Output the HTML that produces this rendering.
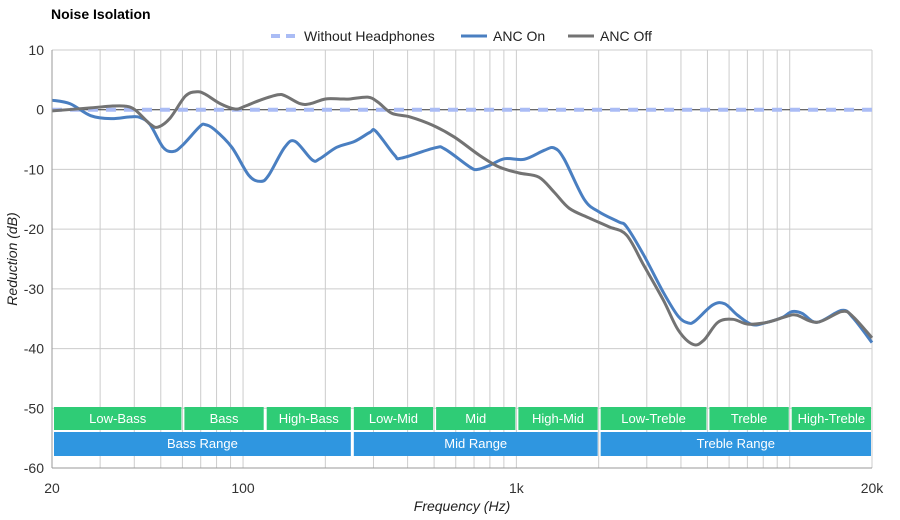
<!DOCTYPE html>
<html><head><meta charset="utf-8"><style>
body{margin:0;background:#fff;}
svg{display:block;font-family:"Liberation Sans",sans-serif;}
</style></head><body>
<svg id="chart" width="900" height="520">
<text x="51" y="19" font-size="14" font-weight="bold" fill="#000">Noise Isolation</text>
<g id="grid"></g>
<g id="bands"></g>
<g id="series"></g>
<g id="axes"></g>
<g font-size="14" fill="#222">
 <g><line x1="271" y1="36" x2="297" y2="36" stroke="#aabcf5" stroke-width="4" stroke-dasharray="9,6"/><text x="304" y="41">Without Headphones</text></g>
 <g><line x1="461" y1="36" x2="487" y2="36" stroke="#4a7fc1" stroke-width="3"/><text x="493" y="41">ANC On</text></g>
 <g><line x1="568" y1="36" x2="594" y2="36" stroke="#737373" stroke-width="3"/><text x="600" y="41">ANC Off</text></g>
</g>
<text x="462" y="511" font-size="14" font-style="italic" text-anchor="middle" fill="#222">Frequency (Hz)</text>
<text transform="translate(17,259) rotate(-90)" font-size="14" font-style="italic" text-anchor="middle" fill="#222">Reduction (dB)</text>
</svg>
<script>
const onFreq=[20,23.3,27.7,32.9,38.6,42,45.7,51,55.5,59.9,69.5,72.7,78.5,91,105,116,124,142,155,179,191,220,256,291,306,358,380,502,548,676,722,800,906,1070,1264,1374,1493,1770,2006,2370,2530,2920,3450,3910,4250,4500,5230,5780,6440,7300,8270,9380,10200,11100,12600,15500,17000,20000];
const onDb=[1.6,1.0,-1,-1.5,-1.2,-1.3,-2.5,-6.3,-7,-6,-2.8,-2.5,-3.3,-6.3,-11,-12,-11,-6.3,-5.3,-8.4,-8.2,-6.3,-5.3,-3.8,-3.6,-7.6,-8.1,-6.4,-6.6,-9.6,-10,-9.3,-8.2,-8.3,-6.8,-6.4,-8.2,-15,-17.1,-18.8,-19.6,-24.3,-30.6,-34.6,-35.7,-35.4,-32.7,-32.5,-34.4,-36,-35.6,-34.8,-33.8,-34.1,-35.6,-33.6,-34.8,-39];
const offFreq=[20,27.7,32.9,37,40.2,45.7,48.9,54.1,61.6,67.9,72.7,82.6,93.9,101.8,115.5,134,143,162,176,200,227,246,286,311,350,408,494,594,731,865,1023,1209,1374,1560,1840,2180,2530,2920,3450,3910,4430,4850,5460,6190,7020,8270,9770,10600,12600,15500,17000,20000];
const offDb=[-0.2,0.3,0.6,0.6,0,-2.4,-2.9,-1.4,2.3,3.0,2.6,1.0,0.1,0.6,1.6,2.5,2.3,1.0,1.0,1.8,1.8,1.8,2.1,1.3,-0.6,-1.2,-2.6,-4.6,-7.6,-9.6,-10.6,-11.3,-13.8,-16.5,-18.1,-19.6,-21,-26,-31.9,-36.9,-39.3,-38.6,-35.6,-35.1,-35.9,-35.6,-34.6,-34.4,-35.6,-33.8,-34.6,-38.2];
const baselineDb=[0,0];
const baselineFreq=[20,20000];
const yTicks=[10,0,-10,-20,-30,-40,-50,-60];
const xTickLabels=["20","100","1k","20k"];
const xTickValues=[20,100,1000,20000];
const bandNames=["Low-Bass","Bass","High-Bass","Low-Mid","Mid","High-Mid","Low-Treble","Treble","High-Treble"];
const bandEdges=[20,60,120,250,500,1000,2000,5000,10000,20000];
const rangeNames=["Bass Range","Mid Range","Treble Range"];
const rangeEdges=[20,250,2000,20000];

const X0=52,X1=872,Y0=50,Y1=468;
const xs=f=>X0+(X1-X0)*Math.log10(f/20)/3;
const ys=d=>Y0+(Y1-Y0)*(10-d)/70;
const NS="http://www.w3.org/2000/svg";
function mk(tag,parent,attrs){const e=document.createElementNS(NS,tag);for(const k in attrs)e.setAttribute(k,attrs[k]);parent.appendChild(e);return e;}
const grid=document.getElementById('grid'),bands=document.getElementById('bands'),series=document.getElementById('series'),axes=document.getElementById('axes');
for(let dec=10;dec<=10000;dec*=10){for(let m=1;m<=9;m++){const f=dec*m;if(f<20||f>20000)continue;
 const l=mk('line',grid,{x1:xs(f),x2:xs(f),y1:Y0,y2:Y1,stroke:'#cccccc','stroke-width':1});
 
 }}
mk('line',grid,{x1:xs(20000),x2:xs(20000),y1:Y0,y2:Y1,stroke:'#cccccc'});
yTicks.forEach(t=>{
 const l=mk('line',grid,{x1:X0,x2:X1,y1:ys(t),y2:ys(t),stroke:t===0?'#333':'#cccccc','stroke-width':1});
 
 
 const tx=mk('text',axes,{x:44,y:ys(t)+5,'text-anchor':'end','font-size':14,fill:'#333'});tx.textContent=t;
 
 
});
mk('line',axes,{x1:X0,x2:X0,y1:Y0,y2:Y1,stroke:'#999'});
mk('line',axes,{x1:X0,x2:X1,y1:Y1,y2:Y1,stroke:'#999'});
xTickValues.forEach((v,i)=>{
 const tx=mk('text',axes,{x:xs(v),y:493,'text-anchor':'middle','font-size':14,fill:'#333'});tx.textContent=xTickLabels[i];
 
 
});
bandNames.forEach((n,i)=>{
 const a=xs(bandEdges[i])+2,b=xs(bandEdges[i+1])-1;
 const r=mk('rect',bands,{x:a,y:407,width:b-a,height:23,fill:'#2fcc76'});
 
 
 const t=mk('text',bands,{x:(a+b)/2,y:423,'text-anchor':'middle','font-size':13,fill:'#fff'});t.textContent=n;
 
 
});
rangeNames.forEach((n,i)=>{
 const a=xs(rangeEdges[i])+2,b=xs(rangeEdges[i+1])-1;
 const r=mk('rect',bands,{x:a,y:432,width:b-a,height:24,fill:'#2f96e0'});
 
 
 const t=mk('text',bands,{x:(a+b)/2,y:448,'text-anchor':'middle','font-size':13,fill:'#fff'});t.textContent=n;
 
 
});
function path(fr,db){const p=fr.map((f,i)=>[xs(f),ys(db[i])]);let d='M'+p[0][0]+','+p[0][1];
 for(let i=0;i<p.length-1;i++){const p0=p[i-1]||p[i],p1=p[i],p2=p[i+1],p3=p[i+2]||p2;
  d+=' C'+(p1[0]+(p2[0]-p0[0])/6)+','+(p1[1]+(p2[1]-p0[1])/6)+' '+(p2[0]-(p3[0]-p1[0])/6)+','+(p2[1]-(p3[1]-p1[1])/6)+' '+p2[0]+','+p2[1];}
 return d;}
const base=mk('path',series,{d:path(baselineFreq,baselineDb),stroke:'#aabcf5','stroke-width':4,'stroke-dasharray':'10,8',fill:'none'});


const on=mk('path',series,{d:path(onFreq,onDb),stroke:'#4a7fc1','stroke-width':3,fill:'none'});


const off=mk('path',series,{d:path(offFreq,offDb),stroke:'#737373','stroke-width':3,fill:'none'});


</script>
</body></html>
